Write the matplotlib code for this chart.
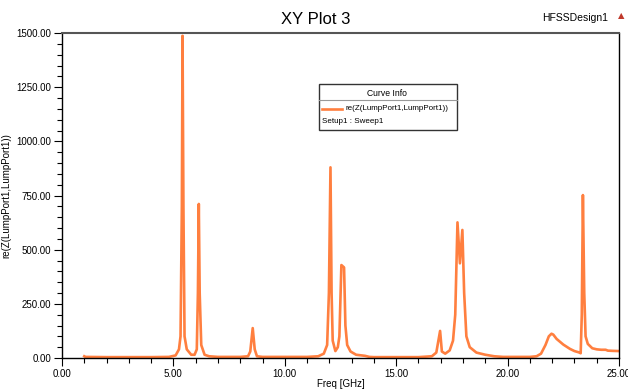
import matplotlib
matplotlib.use('Agg')
import matplotlib.pyplot as plt
from matplotlib.patches import Rectangle
from matplotlib.lines import Line2D
from matplotlib.ticker import MultipleLocator, FormatStrFormatter

plt.rcParams['font.family'] = ['Liberation Sans', 'DejaVu Sans']

# datos (Freq en GHz, re(Z) en ohm)
freq = [1.0, 1.05, 2, 3, 4, 4.8, 5.1, 5.25, 5.32, 5.38, 5.41, 5.45, 5.5, 5.6, 5.8,
        5.95, 6.05, 6.1, 6.14, 6.18, 6.25, 6.4, 6.6, 7, 8, 8.35, 8.45, 8.56, 8.65,
        8.75, 9, 10, 11, 11.5, 11.75, 11.9, 11.98, 12.05, 12.1, 12.15, 12.27, 12.38,
        12.45, 12.54, 12.66, 12.72, 12.8, 12.95, 13.2, 13.6, 13.8, 14, 15, 16, 16.6,
        16.8, 16.97, 17.05, 17.2, 17.4, 17.55, 17.65, 17.75, 17.86, 17.97, 18.05,
        18.15, 18.3, 18.6, 19, 19.4, 19.8, 21, 21.3, 21.5, 21.7, 21.85, 21.97, 22.05,
        22.2, 22.5, 22.8, 23.0, 23.2, 23.28, 23.33, 23.38, 23.44, 23.5, 23.6, 23.8,
        24.0, 24.2, 24.4, 24.5, 24.7, 25]
rez = [8, 5, 4, 4, 4, 5, 12, 40, 100, 700, 1487, 700, 100, 40, 15,
       15, 40, 300, 711, 300, 60, 15, 8, 5, 5, 8, 30, 138, 40,
       8, 5, 5, 5, 8, 20, 60, 300, 880, 300, 80, 32, 50,
       100, 429, 418, 150, 60, 30, 15, 10, 5, 4, 4, 4, 8,
       25, 125, 30, 20, 35, 80, 200, 626, 437, 591, 300,
       100, 50, 25, 15, 8, 5, 5, 8, 20, 60, 100, 112, 108,
       88, 62, 42, 32, 26, 22, 200, 752, 300, 100, 65, 45,
       40, 38, 38, 34, 33, 32]

fig = plt.figure(figsize=(6.28, 3.89), dpi=100)
ax = fig.add_axes([62/628, (389-358)/389, (619-62)/628, (358-33)/389])

ax.plot(freq, rez, color='#ff7f3f', lw=1.9, label='re(Z(LumpPort1,LumpPort1))')
ax.set_xlim(0, 25)
ax.set_ylim(0, 1500)

ax.xaxis.set_major_locator(MultipleLocator(5))
ax.xaxis.set_minor_locator(MultipleLocator(1))
ax.yaxis.set_major_locator(MultipleLocator(250))
ax.yaxis.set_minor_locator(MultipleLocator(50))
ax.xaxis.set_major_formatter(FormatStrFormatter('%.2f'))
ax.yaxis.set_major_formatter(FormatStrFormatter('%.2f'))
ax.tick_params(which='major', length=6, width=0.8, labelsize=7, pad=2)
ax.tick_params(which='minor', length=3.5, width=0.8)
for s in ['left', 'bottom', 'right']:
    ax.spines[s].set_linewidth(1.0)
ax.spines['top'].set_color('#555555')
ax.spines['top'].set_linewidth(1.5)

ax.set_xlabel('Freq [GHz]', fontsize=7, labelpad=0)
ax.set_ylabel('re(Z(LumpPort1,LumpPort1))', fontsize=7, labelpad=3)

fig.text(316/628, 1-19/389, 'XY Plot 3', ha='center', va='center', fontsize=12)
fig.text(575/628, 1-18/389, 'HFSSDesign1', ha='center', va='center', fontsize=7.5)
fig.text(621/628, 1-16/389, '▲', ha='center', va='center', fontsize=6,
         color='#c0392b', family='DejaVu Sans')

# caja "Curve Info"
W, H = 628, 389
fig.patches.append(Rectangle((319/W, 1-130/H), (457-319)/W, (130-84)/H,
                             transform=fig.transFigure, facecolor='white',
                             edgecolor='#333333', lw=1.0, zorder=5))
fig.lines.append(Line2D([319/W, 457/W], [1-100/H, 1-100/H], transform=fig.transFigure,
                        color='#999999', lw=0.8, zorder=6))
fig.text(387/W, 1-93/H, 'Curve Info', ha='center', va='center', fontsize=6.2, zorder=7)
fig.lines.append(Line2D([322/W, 342/W], [1-109/H, 1-109/H], transform=fig.transFigure,
                        color='#ff7f3f', lw=1.9, zorder=6))
fig.text(346/W, 1-109/H, 're(Z(LumpPort1,LumpPort1))', ha='left', va='center',
         fontsize=5.8, zorder=7)
fig.text(322/W, 1-121/H, 'Setup1 : Sweep1', ha='left', va='center', fontsize=5.8, zorder=7)

plt.savefig('out.png', dpi=100)
